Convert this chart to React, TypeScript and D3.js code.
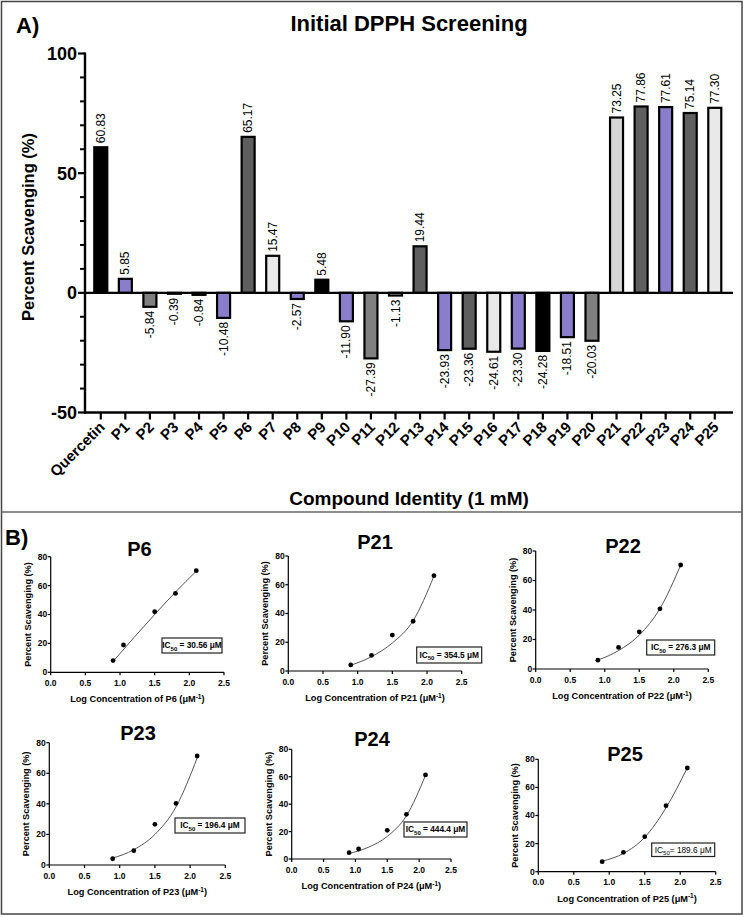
import React from 'react';
import * as d3 from 'd3';

const FONT = "'Liberation Sans', Arial, Helvetica, sans-serif";

// ---------- Panel A data ----------
const categories = ['Quercetin', 'P1', 'P2', 'P3', 'P4', 'P5', 'P6', 'P7', 'P8', 'P9', 'P10', 'P11', 'P12', 'P13', 'P14', 'P15', 'P16', 'P17', 'P18', 'P19', 'P20', 'P21', 'P22', 'P23', 'P24', 'P25'];
const scavenging = [60.83, 5.85, -5.84, -0.39, -0.84, -10.48, 65.17, 15.47, -2.57, 5.48, -11.9, -27.39, -1.13, 19.44, -23.93, -23.36, -24.61, -23.3, -24.28, -18.51, -20.03, 73.25, 77.86, 77.61, 75.14, 77.3];
const barColors = ['#000000', '#8a7dcb', '#808080', '#d6d6d6', '#5f5f5f', '#8a7dcb', '#5f5f5f', '#e9e9e9', '#8a7dcb',
  '#000000', '#8a7dcb', '#808080', '#d6d6d6', '#5f5f5f', '#8a7dcb', '#5f5f5f', '#e9e9e9', '#8a7dcb',
  '#000000', '#8a7dcb', '#808080', '#d6d6d6', '#5f5f5f', '#8a7dcb', '#5f5f5f', '#e9e9e9'];
const yMajorTicks = [-50, 0, 50, 100];
const yMinorTicks = [-40, -30, -20, -10, 10, 20, 30, 40, 60, 70, 80, 90];

// ---------- Panel B data ----------
const panelNames = ['P6', 'P21', 'P22', 'P23', 'P24', 'P25'];
const logConcP6 = [0.9, 1.05, 1.5, 1.8, 2.1];
const logConcP21 = [0.9, 1.2, 1.5, 1.8, 2.1];
const logConcP22 = [0.9, 1.2, 1.5, 1.8, 2.1];
const logConcP23 = [0.9, 1.2, 1.5, 1.8, 2.1];
const logConcP24 = [0.9, 1.05, 1.5, 1.8, 2.1];
const logConcP25 = [0.9, 1.2, 1.5, 1.8, 2.1];
const scavP6 = [8.1, 18.9, 41.9, 54.6, 70.3];
const scavP21 = [4.2, 10.9, 25.0, 34.6, 66.3];
const scavP22 = [6.0, 14.6, 25.2, 40.8, 70.5];
const scavP23 = [4.1, 9.4, 26.6, 40.3, 71.3];
const scavP24 = [4.6, 7.3, 20.9, 32.6, 61.3];
const scavP25 = [7.1, 13.8, 24.9, 47.0, 73.8];
const fitLogConc = [0.9, 1.2, 1.5, 1.8, 2.1];
const fitP6 = [7.5, 24, 40, 55.5, 70];
const fitP21 = [4, 10, 19.5, 35, 66];
const fitP22 = [6, 12.5, 23, 41, 70.5];
const fitP23 = [4.5, 10, 20, 38, 70];
const fitP24 = [4, 8.5, 16.5, 31.5, 61];
const fitP25 = [7.5, 13, 24.5, 45.5, 74];
const ic50Values = ['30.56', '354.5', '276.3', '196.4', '444.4', '189.6'];
const doseTicksX = [0, 0.5, 1, 1.5, 2, 2.5];
const doseTicksY = [0, 20, 40, 60, 80];

const panelConc = [logConcP6, logConcP21, logConcP22, logConcP23, logConcP24, logConcP25];
const panelScav = [scavP6, scavP21, scavP22, scavP23, scavP24, scavP25];
const panelFit = [fitP6, fitP21, fitP22, fitP23, fitP24, fitP25];

// layout of the small plots (pixels)
const layouts = [
  { x0: 50.7, x1: 224, yTop: 556.7, yZero: 672.3, tx: 139.5, ty: 556, box: [162, 638, 60, 15], bold: true, eq: ' = ' },
  { x0: 288.3, x1: 461.7, yTop: 556, yZero: 671, tx: 375, ty: 549, box: [416.7, 647, 65, 16], bold: true, eq: ' = ' },
  { x0: 535.7, x1: 708.3, yTop: 551, yZero: 669, tx: 623, ty: 553, box: [646.7, 640, 68, 15], bold: true, eq: ' = ' },
  { x0: 49.3, x1: 225.3, yTop: 742.7, yZero: 865, tx: 138, ty: 740, box: [175, 818, 70, 15], bold: true, eq: ' = ' },
  { x0: 291.7, x1: 451, yTop: 749.3, yZero: 859, tx: 372, ty: 746, box: [404, 822, 63, 15], bold: true, eq: ' = ' },
  { x0: 538.3, x1: 715.7, yTop: 759.3, yZero: 871.7, tx: 625, ty: 761, box: [651.7, 843, 63, 13.5], bold: false, eq: '= ' },
];

function DosePlot({ idx }: { idx: number }) {
  const L = layouts[idx];
  const name = panelNames[idx];
  const x = d3.scaleLinear().domain([0, 2.5]).range([L.x0, L.x1]);
  const y = d3.scaleLinear().domain([0, 80]).range([L.yZero, L.yTop]);
  const conc = panelConc[idx];
  const scav = panelScav[idx];
  const fit = panelFit[idx];
  const line = d3.line<number>().x((_, i) => x(fitLogConc[i])).y((d) => y(d)).curve(d3.curveMonotoneX);
  const [bx, by, bw, bh] = L.box;
  const fmt = d3.format('.1f');
  return (
    <g fontFamily={FONT}>
      <text x={L.tx} y={L.ty} textAnchor="middle" fontSize={20} fontWeight="bold">{name}</text>
      <line x1={L.x0} x2={L.x0} y1={L.yTop} y2={L.yZero} stroke="#000" strokeWidth={1.2} />
      <line x1={L.x0} x2={L.x1} y1={L.yZero} y2={L.yZero} stroke="#000" strokeWidth={1.2} />
      {doseTicksY.map((t) => (
        <g key={'y' + t}>
          <line x1={L.x0 - 3} x2={L.x0} y1={y(t)} y2={y(t)} stroke="#000" strokeWidth={1.2} />
          <text x={L.x0 - 3.5} y={y(t)} dy="0.35em" textAnchor="end" fontSize={8.5} fontWeight="bold">{t}</text>
        </g>
      ))}
      {doseTicksX.map((t) => (
        <g key={'x' + t}>
          <line x1={x(t)} x2={x(t)} y1={L.yZero} y2={L.yZero + 3} stroke="#000" strokeWidth={1.2} />
          <text x={x(t)} y={L.yZero + 13.5} textAnchor="middle" fontSize={8.5} fontWeight="bold">{fmt(t)}</text>
        </g>
      ))}
      <text transform={`translate(${L.x0 - 20},${(L.yTop + L.yZero) / 2}) rotate(-90)`} textAnchor="middle" fontSize={9.2} fontWeight="bold">Percent Scavenging (%)</text>
      <text x={(L.x0 + L.x1) / 2} y={L.yZero + 30} textAnchor="middle" fontSize={9.2} fontWeight="bold">
        {`Log Concentration of ${name} (\u03bcM`}
        <tspan dy={-3.5} fontSize={6.5}>-1</tspan>
        <tspan dy={3.5}>)</tspan>
      </text>
      <path d={line(fit) || ''} fill="none" stroke="#555" strokeWidth={1} />
      {scav.map((v, i) => (
        <circle key={i} cx={x(conc[i])} cy={y(v)} r={2.4} fill="#000" />
      ))}
      <rect x={bx} y={by} width={bw} height={bh} fill="#fff" stroke="#222" strokeWidth={1.2} />
      <text x={bx + bw / 2} y={by + bh / 2} dy="0.35em" textAnchor="middle" fontSize={8.3} fontWeight={L.bold ? 'bold' : 'normal'}>
        IC<tspan dy={2.5} fontSize={6}>50</tspan><tspan dy={-2.5}>{`${L.eq}${ic50Values[idx]} \u03bcM`}</tspan>
      </text>
    </g>
  );
}

function PanelA() {
  const x = d3.scaleBand<string>().domain(categories).range([88.5, 727.06]).padding(0);
  const y = d3.scaleLinear().domain([-50, 100]).range([412.5, 53.5]);
  const bw = 13;
  const axisLeft = 85;
  const axisRight = 733;
  return (
    <g fontFamily={FONT}>
      <text x={16} y={33} fontSize={22} fontWeight="bold">A)</text>
      <text x={409} y={31} textAnchor="middle" fontSize={22} fontWeight="bold">Initial DPPH Screening</text>
      {categories.map((c, i) => {
        const v = scavenging[i];
        const cx = (x(c) as number) + x.bandwidth() / 2;
        const top = y(Math.max(v, 0));
        const h = Math.abs(y(v) - y(0));
        return (
          <g key={c}>
            <rect x={cx - bw / 2} y={top} width={bw} height={h} fill={barColors[i]} stroke="#000" strokeWidth={2.2} />
            {v >= 0 ? (
              <text transform={`translate(${cx},${y(v) - 4}) rotate(-90)`} textAnchor="start" dominantBaseline="central" fontSize={12}>{v.toFixed(2)}</text>
            ) : (
              <text transform={`translate(${cx},${y(v) + 4}) rotate(-90)`} textAnchor="end" dominantBaseline="central" fontSize={12}>{v.toFixed(2)}</text>
            )}
          </g>
        );
      })}
      <line x1={axisLeft} x2={axisRight} y1={y(0)} y2={y(0)} stroke="#000" strokeWidth={2.2} />
      <line x1={axisLeft} x2={axisLeft} y1={y(100) - 1} y2={y(-50) + 1.2} stroke="#000" strokeWidth={2.4} />
      {yMajorTicks.map((t) => (
        <g key={'M' + t}>
          <line x1={axisLeft - 7} x2={axisLeft} y1={y(t)} y2={y(t)} stroke="#000" strokeWidth={2.2} />
          <text x={axisLeft - 8} y={y(t)} dy="0.36em" textAnchor="end" fontSize={18} fontWeight="bold">{t}</text>
        </g>
      ))}
      {yMinorTicks.map((t) => (
        <line key={'m' + t} x1={axisLeft - 5} x2={axisLeft} y1={y(t)} y2={y(t)} stroke="#000" strokeWidth={2} />
      ))}
      <text transform={`translate(34,227) rotate(-90)`} textAnchor="middle" fontSize={16.5} fontWeight="bold">Percent Scavenging (%)</text>
      <line x1={axisLeft} x2={axisRight} y1={y(-50)} y2={y(-50)} stroke="#000" strokeWidth={2.4} />
      {categories.map((c) => {
        const cx = (x(c) as number) + x.bandwidth() / 2;
        return (
          <g key={'t' + c}>
            <line x1={cx} x2={cx} y1={y(-50)} y2={y(-50) + 7} stroke="#000" strokeWidth={2.2} />
            <text transform={`translate(${cx + 5},${428}) rotate(-45)`} textAnchor="end" fontSize={15} fontWeight="bold">{c}</text>
          </g>
        );
      })}
      <text x={409} y={505} textAnchor="middle" fontSize={19} fontWeight="bold">Compound Identity (1 mM)</text>
    </g>
  );
}

export default function App() {
  return (
    <svg width={745} height={917} style={{ position: 'absolute', left: 0, top: 0, background: '#fff' }}>
      <rect x={0} y={0} width={745} height={917} fill="#fff" />
      <PanelA />
      <text x={5} y={545} fontFamily={FONT} fontSize={22} fontWeight="bold">B)</text>
      {panelNames.map((_, i) => <DosePlot key={i} idx={i} />)}
      <rect x={1.5} y={1.5} width={740.5} height={912.5} fill="none" stroke="#444" strokeWidth={1.5} />
      <line x1={1.5} x2={742} y1={512} y2={512} stroke="#666" strokeWidth={1.5} />
    </svg>
  );
}
